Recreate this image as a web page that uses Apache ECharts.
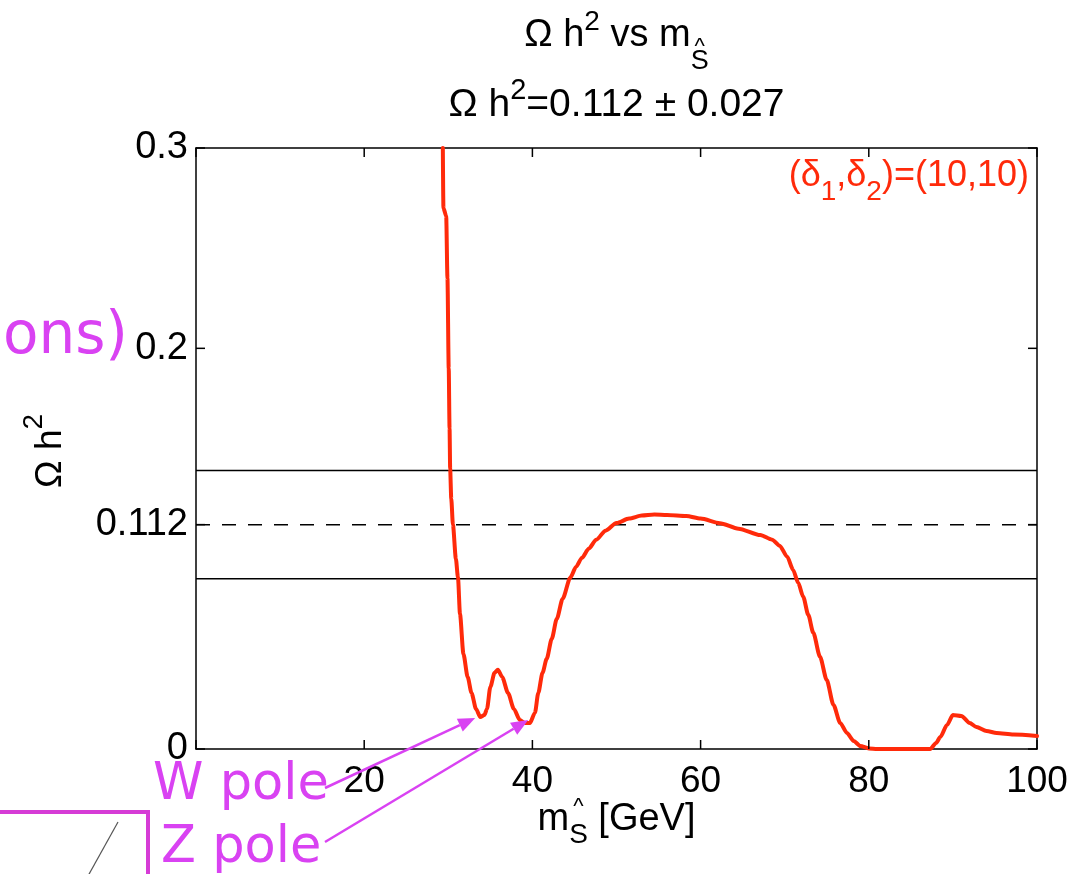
<!DOCTYPE html>
<html>
<head>
<meta charset="utf-8">
<script src="https://cdn.jsdelivr.net/npm/echarts@6/dist/echarts.min.js"></script>
<style>
html,body{margin:0;padding:0;background:#fff;}
#chart{width:1087px;height:874px;}
</style>
</head>
<body>
<div id="chart"></div>
<script>
// ---- data ----
const massValues = [29.35, 29.42, 29.75, 29.9, 30.05, 30.15, 30.22, 30.35, 30.55, 30.9, 31.15, 31.39, 31.8, 32.3, 32.76, 33.3, 33.8, 34.3, 34.6, 35.0, 35.5, 35.9, 36.4, 37.1, 37.8, 38.5, 39.1, 39.7, 40.3, 40.7, 41.2, 41.7, 42.3, 42.9, 43.6, 44.5, 45.2, 45.9, 46.7, 47.6, 48.7, 50.0, 51.5, 53.0, 54.5, 56.0, 58.3, 60.0, 62.3, 64.5, 67.1, 68.5, 69.4, 70.3, 71.0, 71.6, 72.2, 72.8, 73.4, 74.2, 75.0, 75.8, 76.6, 77.4, 78.2, 79.0, 80.0, 81.0, 87.3, 88.0, 88.5, 89.3, 90.0, 91.0, 92.0, 92.8, 94.0, 95.2, 97.2, 100];
const omegaValues = [0.300, 0.270, 0.266, 0.235, 0.190, 0.160, 0.140, 0.125, 0.112, 0.095, 0.0856, 0.0674, 0.0474, 0.036, 0.028, 0.020, 0.016, 0.017, 0.020, 0.031, 0.038, 0.0396, 0.036, 0.028, 0.020, 0.0145, 0.013, 0.013, 0.018, 0.028, 0.038, 0.045, 0.055, 0.065, 0.075, 0.0855, 0.091, 0.0955, 0.100, 0.1045, 0.109, 0.1128, 0.1150, 0.1165, 0.1170, 0.1168, 0.1163, 0.1150, 0.1127, 0.1100, 0.1068, 0.1045, 0.1015, 0.096, 0.0894, 0.083, 0.076, 0.067, 0.058, 0.046, 0.0344, 0.022, 0.013, 0.008, 0.004, 0.0015, 0.0003, 0, 0, 0.003, 0.006, 0.012, 0.017, 0.0165, 0.013, 0.011, 0.009, 0.008, 0.0072, 0.0065];
const bandSolid = [0.139, 0.085];
const bandCentral = 0.112;
const yTickValues = [0, 0.112, 0.2, 0.3];
const xTickValues = [0, 20, 40, 60, 80, 100];
const xRange = [0, 100];
const yRange = [0, 0.3];
const wPolePoint = [33.2, 0.0155];
const zPolePoint = [39.5, 0.0145];

const chart = echarts.init(document.getElementById('chart'), null, {renderer: 'canvas'});
const AF = '"Liberation Sans", Arial, sans-serif';
const seriesData = massValues.map((m, i) => [m, omegaValues[i]]);

function hLine(v, type) {
  return {type: 'line', data: [[xRange[0], v], [xRange[1], v]], showSymbol: false, symbol: 'none',
          silent: true, z: 1, lineStyle: {color: '#000', width: 1.5, type: type}};
}

chart.setOption({
  animation: false,
  backgroundColor: '#fff',
  grid: {left: 196, right: 50, top: 148, bottom: 125, containLabel: false},
  xAxis: [
    {type: 'value', min: xRange[0], max: xRange[1], interval: 20, position: 'bottom',
     axisLine: {show: true, onZero: false, lineStyle: {color: '#000', width: 1.5}},
     axisTick: {show: false}, splitLine: {show: false},
     axisLabel: {fontSize: 37, fontFamily: AF, color: '#000', margin: 14,
                 formatter: v => (v === 0 ? '' : String(v))}},
    {type: 'value', min: xRange[0], max: xRange[1], interval: 20, position: 'top',
     axisLine: {show: true, onZero: false, lineStyle: {color: '#000', width: 1.5}},
     axisTick: {show: false}, splitLine: {show: false}, axisLabel: {show: false}}
  ],
  yAxis: [
    {type: 'value', min: yRange[0], max: yRange[1], position: 'left',
     axisLine: {show: true, onZero: false, lineStyle: {color: '#000', width: 1.5}},
     axisTick: {show: false}, splitLine: {show: false},
     axisLabel: {fontSize: 38, fontFamily: AF, color: '#000', margin: 8,
                 customValues: yTickValues, formatter: v => String(v)}},
    {type: 'value', min: yRange[0], max: yRange[1], position: 'right',
     axisLine: {show: true, onZero: false, lineStyle: {color: '#000', width: 1.5}},
     axisTick: {show: false}, splitLine: {show: false}, axisLabel: {show: false}}
  ],
  series: [
    hLine(bandSolid[0], 'solid'),
    hLine(bandSolid[1], 'solid'),
    hLine(bandCentral, [14, 12]),
    {
      type: 'line',
      data: seriesData,
      showSymbol: false,
      symbol: 'none',
      clip: true,
      smooth: 0.25,
      smoothMonotone: 'x',
      z: 3,
      lineStyle: {color: '#ff2a0a', width: 4, join: 'round', cap: 'round'}
    }
  ]
});

// ---- text helpers ----
const mctx = document.createElement('canvas').getContext('2d');
function measure(t, fs, fam) { mctx.font = fs + 'px ' + fam; return mctx.measureText(t).width; }
function run(pieces, fam, fill, align) {
  const widths = pieces.map(p => measure(p.t, p.fs, fam));
  let total = 0;
  pieces.forEach((p, i) => { if (!p.over) total += widths[i]; });
  let cursor = align === 'center' ? -total / 2 : (align === 'right' ? -total : 0);
  const els = [];
  pieces.forEach((p, i) => {
    let px;
    if (p.over) { px = cursor + (widths[i + 1] - widths[i]) / 2; }
    else { px = cursor; cursor += widths[i]; }
    els.push({type: 'text', x: px, y: (p.dy || 0) - 0.32 * p.fs,
      style: {text: p.t, fontSize: p.fs, fontFamily: fam, fill: p.fill || fill,
              align: 'left', verticalAlign: 'middle'}});
  });
  return els;
}
function group(x, y, children, rotation) {
  return {type: 'group', x: x, y: y, rotation: rotation || 0, children: children};
}

const MAG = '#d942f2';
const MF = '"DejaVu Sans", Verdana, sans-serif';
const g = [];

// inward ticks on all four sides, placed with the chart's own scales
const TL = 9;
const tickStyle = {stroke: '#000', lineWidth: 1.5};
xTickValues.forEach(v => {
  const pb = chart.convertToPixel({gridIndex: 0}, [v, yRange[0]]);
  const pt = chart.convertToPixel({gridIndex: 0}, [v, yRange[1]]);
  g.push({type: 'line', shape: {x1: pb[0], y1: pb[1], x2: pb[0], y2: pb[1] - TL}, style: tickStyle, z: 10});
  g.push({type: 'line', shape: {x1: pt[0], y1: pt[1], x2: pt[0], y2: pt[1] + TL}, style: tickStyle, z: 10});
});
yTickValues.forEach(v => {
  const pl = chart.convertToPixel({gridIndex: 0}, [xRange[0], v]);
  const pr = chart.convertToPixel({gridIndex: 0}, [xRange[1], v]);
  g.push({type: 'line', shape: {x1: pl[0], y1: pl[1], x2: pl[0] + TL, y2: pl[1]}, style: tickStyle, z: 10});
  g.push({type: 'line', shape: {x1: pr[0], y1: pr[1], x2: pr[0] - TL, y2: pr[1]}, style: tickStyle, z: 10});
});

// titles
g.push(group(616.5, 48, run([
  {t: 'Ω h', fs: 38}, {t: '2', fs: 28, dy: -17}, {t: ' vs m', fs: 38},
  {t: '^', fs: 22, dy: 6, over: true}, {t: 'S', fs: 27, dy: 22}
], AF, '#000', 'center')));
g.push(group(616.5, 118, run([
  {t: 'Ω h', fs: 39}, {t: '2', fs: 29, dy: -18}, {t: '=0.112 ± 0.027', fs: 39}
], AF, '#000', 'center')));
// x axis name
g.push(group(616.5, 832, run([
  {t: 'm', fs: 38}, {t: '^', fs: 22, dy: -18, over: true}, {t: 'S', fs: 28, dy: 12}, {t: ' [GeV]', fs: 38}
], AF, '#000', 'center')));
// y axis name (rotated)
g.push(group(63, 451, run([
  {t: 'Ω h', fs: 37}, {t: '2', fs: 28, dy: -20}
], AF, '#000', 'center'), Math.PI / 2));
// red legend label
g.push(group(1029, 188, run([
  {t: '(δ', fs: 36}, {t: '1', fs: 28, dy: 13}, {t: ',δ', fs: 36}, {t: '2', fs: 28, dy: 13}, {t: ')=(10,10)', fs: 36}
], AF, '#ff2a0a', 'right')));

// magenta annotations
g.push(group(128, 356, run([{t: 'ons)', fs: 58}], MF, MAG, 'right')));
g.push(group(153, 802, run([{t: 'W pole', fs: 51}], MF, MAG, 'left')));
g.push(group(161, 865, run([{t: 'Z pole', fs: 51}], MF, MAG, 'left')));

function arrow(from, to) {
  const dx = to[0] - from[0], dy = to[1] - from[1];
  const L = Math.hypot(dx, dy), ux = dx / L, uy = dy / L;
  const hl = 17, hw = 7;
  const bx = to[0] - ux * hl, by = to[1] - uy * hl;
  return [
    {type: 'line', shape: {x1: from[0], y1: from[1], x2: bx, y2: by},
     style: {stroke: MAG, lineWidth: 2.5}, z: 20},
    {type: 'polygon', shape: {points: [to, [bx - uy * hw, by + ux * hw], [bx + uy * hw, by - ux * hw]]},
     style: {fill: MAG}, z: 20}
  ];
}
const wTip = chart.convertToPixel({gridIndex: 0}, wPolePoint);
const zTip = chart.convertToPixel({gridIndex: 0}, zPolePoint);
arrow([325, 788], wTip).forEach(e => g.push(e));
arrow([325, 842], zTip).forEach(e => g.push(e));

g.push({type: 'polyline', shape: {points: [[0, 812], [148, 812], [148, 876]]},
        style: {stroke: '#d63cd6', lineWidth: 4, fill: null}});
g.push({type: 'line', shape: {x1: 118, y1: 822, x2: 88, y2: 876},
        style: {stroke: '#555', lineWidth: 1.2}});

chart.setOption({graphic: {elements: g}});
</script>
</body>
</html>
